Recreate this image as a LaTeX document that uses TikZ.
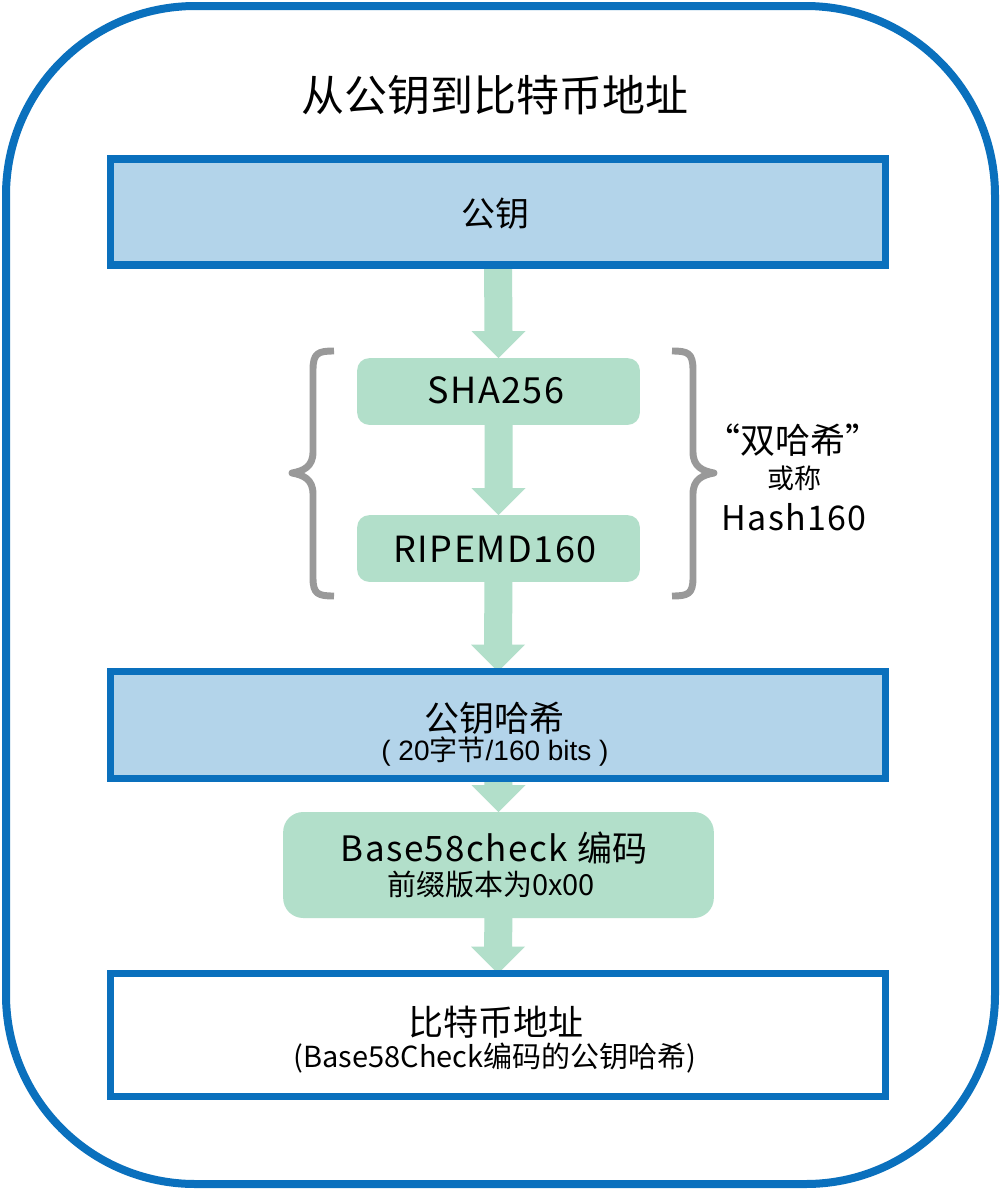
\documentclass[tikz,border=0pt]{standalone}
\usepackage{fontspec}
\setmainfont{Noto Sans CJK SC}
\newfontfamily\arialf{Liberation Sans}
\newfontfamily\spacedf[LetterSpace=4]{Noto Sans CJK SC}
\usetikzlibrary{calc}
\definecolor{frameblue}{RGB}{10,112,189}
\definecolor{boxblue}{RGB}{179,212,234}
\definecolor{stepgreen}{RGB}{178,223,202}
\definecolor{bracegray}{RGB}{153,153,153}
\newcommand\fpx[1]{\fontsize{\dimexpr #1pt*3/4\relax}{\dimexpr #1pt*9/10\relax}\selectfont}
\pgfdeclarelayer{bottomlayer}
\pgfdeclarelayer{arrowlayer}
\pgfsetlayers{bottomlayer,arrowlayer,main}
\begin{document}
\begin{tikzpicture}[x=0.75pt,y=-0.75pt,
  mainbox/.style={draw=frameblue,line width=5.5pt,fill=boxblue,inner sep=0,outer sep=0,minimum width=581pt},
  greenbox/.style={fill=stepgreen,inner sep=0,outer sep=0},
  arrowfill/.style={fill=stepgreen},
  bracestyle/.style={draw=bracegray,line width=5.2pt,line join=round},
  lbl/.style={inner sep=0,outer sep=0,anchor=center}]
\begin{pgfonlayer}{bottomlayer}
\fill[white] (0,0) rectangle (1001,1190);
\end{pgfonlayer}
\useasboundingbox (0,0) rectangle (1001,1190);
\draw[frameblue,line width=6pt,rounded corners=142pt] (6,6) rectangle (995,1184);
% title
\node[lbl] (title) at (495,95) {\fpx{43}从公钥到比特币地址};
% boxes
\node[mainbox,minimum height=79.5pt] (pk) at (498,212) {};
\node[greenbox,rounded corners=9pt,minimum width=212pt,minimum height=50pt] (sha) at (498.5,391.5) {};
\node[greenbox,rounded corners=9pt,minimum width=212pt,minimum height=50pt] (rip) at (498.5,548.5) {};
\node[mainbox,minimum height=80pt] (pkh) at (498,725) {};
\node[greenbox,rounded corners=15pt,minimum width=323pt,minimum height=79.5pt] (b58) at (498.5,865) {};
\node[mainbox,fill=white,minimum height=92pt] (addr) at (498,1035) {};
% arrows behind boxes
\newcommand\fatarrow[2]{%
  \fill[arrowfill] ($(#1.south)+(-14,-1)$) -- ($(#2.north)+(-14,-27)$) -- ($(#2.north)+(-27,-27)$) -- (#2.north)
    -- ($(#2.north)+(27,-27)$) -- ($(#2.north)+(14,-27)$) -- ($(#1.south)+(14,-1)$) -- cycle;}
\begin{pgfonlayer}{arrowlayer}
\fatarrow{pk}{sha}
\fatarrow{sha}{rip}
\fatarrow{rip}{pkh}
\fatarrow{pkh}{b58}
\fatarrow{b58}{addr}
\end{pgfonlayer}
% texts
\node[lbl] (tpk) at (495,214) {\fpx{34}公钥};
\node[lbl] (tsha) at (496,390) {\fpx{36}\spacedf SHA256};
\node[lbl] (trip) at (495,550) {\fpx{36}\spacedf RIPEMD160};
\node[lbl] (tpkh) at (494,718) {\fpx{35}公钥哈希};
\node[lbl] (tpkh2) at (495,752) {\fpx{28}\arialf ( 20{\rmfamily 字节}/160 bits )};
\node[lbl] (tb58) at (494,848) {\fpx{35}\spacedf Base58check {\rmfamily 编码}};
\node[lbl] (tb582) at (491,884) {\fpx{29}前缀版本为0x00};
\node[lbl] (taddr) at (496,1022) {\fpx{35}比特币地址};
\node[lbl] (taddr2) at (495,1058) {\fpx{29}(Base58Check编码的公钥哈希)};
% braces
\draw[bracestyle] (334,351) .. controls (318,351) and (313,353) .. (313,370) -- (313,452)
  .. controls (313,467) and (303,471) .. (292,473) .. controls (303,475) and (313,479) .. (313,494)
  -- (313,578) .. controls (313,594) and (318,596) .. (334,596);
\draw[bracestyle] (672,351) .. controls (688,351) and (693,353) .. (693,370) -- (693,452)
  .. controls (693,467) and (703,471) .. (714,473) .. controls (703,475) and (693,479) .. (693,494)
  -- (693,578) .. controls (693,594) and (688,596) .. (672,596);
\node[lbl] (dh) at (793,440) {\fpx{35}“双哈希”};
\node[lbl] (hc) at (794,478) {\fpx{27}或称};
\node[lbl] (h160) at (794,517) {\fpx{34}\spacedf Hash160};
\end{tikzpicture}
\end{document}
